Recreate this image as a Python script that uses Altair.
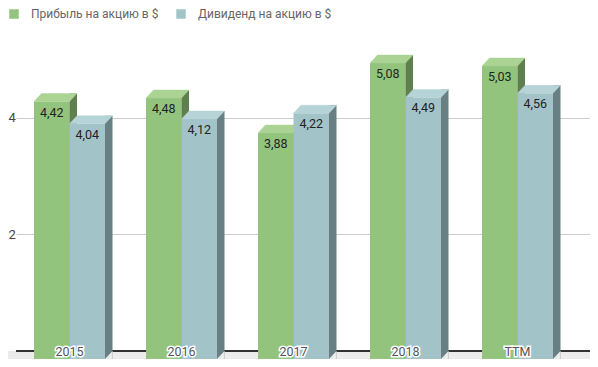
import altair as alt
import pandas as pd

categories = ["2015", "2016", "2017", "2018", "TTM"]
series_names = ["Прибыль на акцию в $", "Дивиденд на акцию в $"]
profit = [4.42, 4.48, 3.88, 5.08, 5.03]
dividend = [4.04, 4.12, 4.22, 4.49, 4.56]
y_ticks = [2, 4]

front_colors = ["#93c47d", "#a2c4c9"]
top_colors = ["#aad394", "#b6d3d7"]
side_colors = ["#5f7f4f", "#687f84"]
floor_color = "#ebebeb"

W, H = 574, 343
DX, DY = 7.5, 8          # 3D depth (pixels)
HALF = 17.75             # half bar width (pixels)
BAR = 0.317              # bar width in category-step units
X0 = -0.1607             # left end of the x domain in category-step units

rows = []
for j, (s, vals) in enumerate(zip(series_names, [profit, dividend])):
    for i, (c, v) in enumerate(zip(categories, vals)):
        xl = i + j * BAR
        rows.append({"cat": c, "series": s, "value": v,
                     "xl": xl, "xr": xl + BAR, "xc": xl + BAR / 2,
                     "label": f"{v:.2f}".replace(".", ",")})
df = pd.DataFrame(rows)
cats_df = pd.DataFrame({"cat": categories,
                        "xg": [i + BAR for i in range(len(categories))]})

XS = alt.Scale(domain=[X0, X0 + W / 112.0], nice=False, zero=False)
Y = alt.Y("value:Q",
          scale=alt.Scale(domain=[0, 5.888], nice=False, zero=True),
          axis=alt.Axis(values=y_ticks, format="d", grid=True, gridColor="#cccccc",
                        domain=False, ticks=False, tickSize=0,
                        labelAlign="left", labelPadding=8, labelBaseline="middle",
                        labelFont="Roboto", labelFontSize=13, labelColor="#444444",
                        title=None))
COLOR = alt.Color("series:N",
                  scale=alt.Scale(domain=series_names, range=front_colors),
                  legend=alt.Legend(title=None, orient="none", legendX=-8, legendY=0,
                                    direction="horizontal", symbolType="square",
                                    symbolSize=90, symbolStrokeWidth=0,
                                    labelOffset=11, columnPadding=16,
                                    labelFont="Roboto", labelFontSize=12,
                                    labelColor="#666666", labelLimit=300,
                                    padding=0))

floor = alt.Chart(cats_df).mark_rect(color=floor_color, y2Offset=DY).encode(
    y=alt.datum(0), y2=alt.datum(0), x=alt.value(-DX), x2=alt.value(W))
baseline = alt.Chart(cats_df).mark_rule(color="#333333", strokeWidth=1.5).encode(
    y=alt.datum(0))

top_path = (f"M {-HALF} {DY} L {HALF} {DY} L {HALF + DX} 0 "
            f"L {-HALF + DX} 0 Z")
patch_path = f"M {HALF} {DY} L {HALF + DX} 0 L {HALF + DX} {DY} Z"

layers = [floor, baseline]
for i, s in enumerate(series_names):
    base = alt.Chart(df).transform_filter(alt.datum.series == s)
    front = base.mark_rect(yOffset=DY, y2Offset=DY).encode(
        x=alt.X("xl:Q", scale=XS, axis=None), x2="xr:Q",
        y=Y, y2=alt.datum(0), color=COLOR)
    side = base.mark_rect(color=side_colors[i], x2Offset=DX, y2Offset=DY).encode(
        x=alt.X("xr:Q", scale=XS, axis=None), x2="xr:Q",
        y=Y, y2=alt.datum(0))
    top = base.mark_point(shape=top_path, size=4, filled=True, opacity=1,
                          color=top_colors[i], stroke=top_colors[i],
                          strokeWidth=0.4).encode(
        x=alt.X("xc:Q", scale=XS, axis=None), y=Y)
    layers += [front, side]
    if i == len(series_names) - 1:
        patch = base.mark_point(shape=patch_path, size=4, filled=True, opacity=1,
                                color=floor_color, strokeWidth=0).encode(
            x=alt.X("xc:Q", scale=XS, axis=None), y=alt.datum(0))
        layers.append(patch)
    layers.append(top)

value_labels = alt.Chart(df).mark_text(font="Roboto", fontSize=12.5, color="#222222",
                                       baseline="middle", dy=DY + 11).encode(
    x=alt.X("xc:Q", scale=XS, axis=None), y=Y, text="label:N")
year_halo = alt.Chart(cats_df).mark_text(font="Roboto", fontSize=12.5, color="#ffffff",
                                         stroke="#ffffff", strokeWidth=3,
                                         baseline="middle", dy=1).encode(
    x=alt.X("xg:Q", scale=XS, axis=None), y=alt.datum(0), text="cat:N")
year_text = alt.Chart(cats_df).mark_text(font="Roboto", fontSize=12.5, color="#555555",
                                         baseline="middle", dy=1).encode(
    x=alt.X("xg:Q", scale=XS, axis=None), y=alt.datum(0), text="cat:N")
layers += [value_labels, year_halo, year_text]

chart = alt.layer(*layers).properties(
    width=W, height=H,
    autosize=alt.AutoSizeParams(type="none"),
    padding={"left": 8, "top": 0, "right": 0, "bottom": 8},
    background="white",
).configure_view(stroke=None)

chart.save("out.html", embed_options={"renderer": "svg", "actions": False})
